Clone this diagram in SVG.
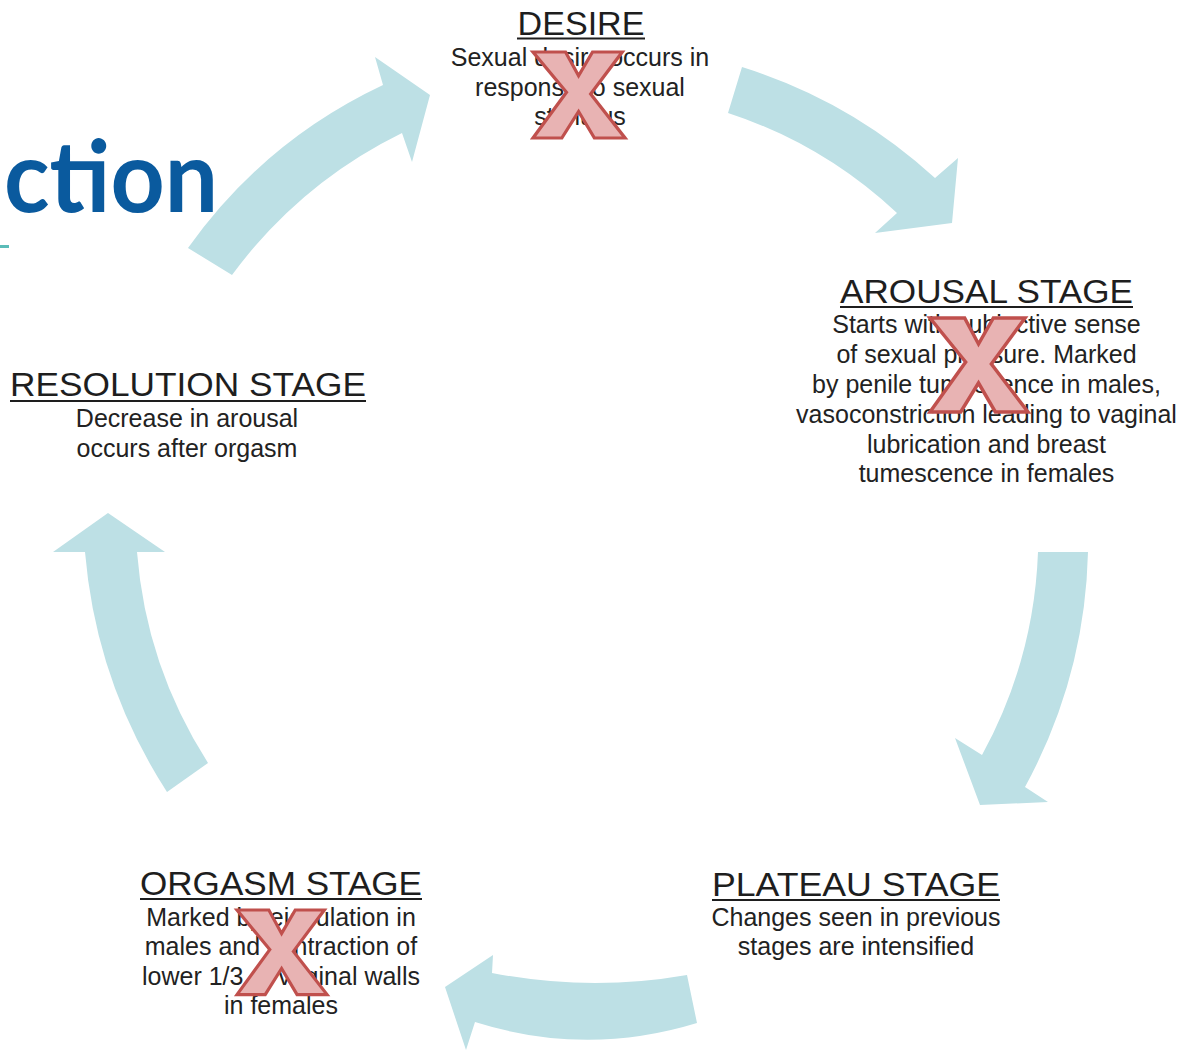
<svg xmlns="http://www.w3.org/2000/svg" xmlns:xlink="http://www.w3.org/1999/xlink" width="1184" height="1052" viewBox="0 0 1184 1052">
  <style>
    .head { font-family: "Liberation Sans", Arial, sans-serif; font-size: 33px; fill: #1e1e1e; text-anchor: middle; }
    .body { font-family: "Liberation Sans", Arial, sans-serif; font-size: 25px; fill: #222222; text-anchor: middle; }
    .ul { stroke: #1e1e1e; stroke-width: 2.2; }
    .arrow { fill: #bde0e5; stroke: none; }
    .xmark { fill: #e8b3b3; stroke: #c0504d; stroke-width: 3.5; stroke-linejoin: miter; }
    .title { font-family: Lato, "Open Sans", "Liberation Sans", sans-serif; font-weight: 700; font-size: 100px; fill: #0a5a9e; }
  </style>
  <defs>
    <polygon id="xshape" points="0,0 35,0 49,26 64,0 96,0 62,46 99,94 66,94 49,65 31,94 0,94 36,44"/>
  </defs>

  <rect x="0" y="0" width="1184" height="1052" fill="#ffffff"/>

  <g id="title-fragment">
    <text class="title" x="4" y="212" textLength="214" lengthAdjust="spacingAndGlyphs">ction</text>
    <rect x="0" y="245" width="9" height="3" fill="#5bbcb8"/>
  </g>

  <g id="connectors">
    <path class="arrow" d="M188,248 Q264,141 383,85 L375,57 L430,95 L412,162 L402,133 Q300,183 232,275 Z"/>
    <path class="arrow" d="M742,67 Q851,101 935,178 L958,158 L952,223 L875,233 L897,213 Q823,144 728,113 Z"/>
    <path class="arrow" d="M1038,552 Q1034,660 982,755 L955,738 L980,805 L1048,802 L1025,787 Q1085,677 1088,552 Z"/>
    <path class="arrow" d="M687,975 Q590,992 492,973 L493,955 L445,987 L466,1050 L475,1022 Q586,1057 697,1023 Z"/>
    <path class="arrow" d="M167,792 Q96,682 85,552 L53,552 L108,513 L165,552 L137,552 Q146,666 208,763 Z"/>
  </g>

  <g id="node-desire">
    <text class="head" x="581" y="35" textLength="127" lengthAdjust="spacingAndGlyphs">DESIRE</text>
    <line class="ul" x1="517" y1="38.5" x2="645" y2="38.5"/>
    <text class="body" x="580" y="66">Sexual desire occurs in</text>
    <text class="body" x="580" y="95.5">response to sexual</text>
    <text class="body" x="580" y="125">stimulus</text>
    <use xlink:href="#xshape" class="xmark" transform="translate(533,52) scale(0.93,0.915)"/>
  </g>

  <g id="node-arousal">
    <text class="head" x="986.5" y="303" textLength="293" lengthAdjust="spacingAndGlyphs">AROUSAL STAGE</text>
    <line class="ul" x1="840" y1="307" x2="1133" y2="307"/>
    <text class="body" x="986.5" y="333">Starts with subjective sense</text>
    <text class="body" x="986.5" y="363">of sexual pleasure. Marked</text>
    <text class="body" x="986.5" y="393">by penile tumescence in males,</text>
    <text class="body" x="986.5" y="423">vasoconstriction leading to vaginal</text>
    <text class="body" x="986.5" y="453">lubrication and breast</text>
    <text class="body" x="986.5" y="482">tumescence in females</text>
    <use xlink:href="#xshape" class="xmark" transform="translate(930,318) scale(0.99,1)"/>
  </g>

  <g id="node-plateau">
    <text class="head" x="856" y="896" textLength="288" lengthAdjust="spacingAndGlyphs">PLATEAU STAGE</text>
    <line class="ul" x1="712" y1="900" x2="1000" y2="900"/>
    <text class="body" x="856" y="926">Changes seen in previous</text>
    <text class="body" x="856" y="955">stages are intensified</text>
  </g>

  <g id="node-orgasm">
    <text class="head" x="281" y="895" textLength="282" lengthAdjust="spacingAndGlyphs">ORGASM STAGE</text>
    <line class="ul" x1="140" y1="899" x2="422" y2="899"/>
    <text class="body" x="281" y="926">Marked by ejaculation in</text>
    <text class="body" x="281" y="955">males and contraction of</text>
    <text class="body" x="281" y="985">lower 1/3 of vaginal walls</text>
    <text class="body" x="281" y="1014">in females</text>
    <use xlink:href="#xshape" class="xmark" transform="translate(237,910) scale(0.91,0.9)"/>
  </g>

  <g id="node-resolution">
    <text class="head" x="188" y="396" textLength="356" lengthAdjust="spacingAndGlyphs">RESOLUTION STAGE</text>
    <line class="ul" x1="10" y1="401" x2="366" y2="401"/>
    <text class="body" x="187" y="427">Decrease in arousal</text>
    <text class="body" x="187" y="457">occurs after orgasm</text>
  </g>
</svg>
